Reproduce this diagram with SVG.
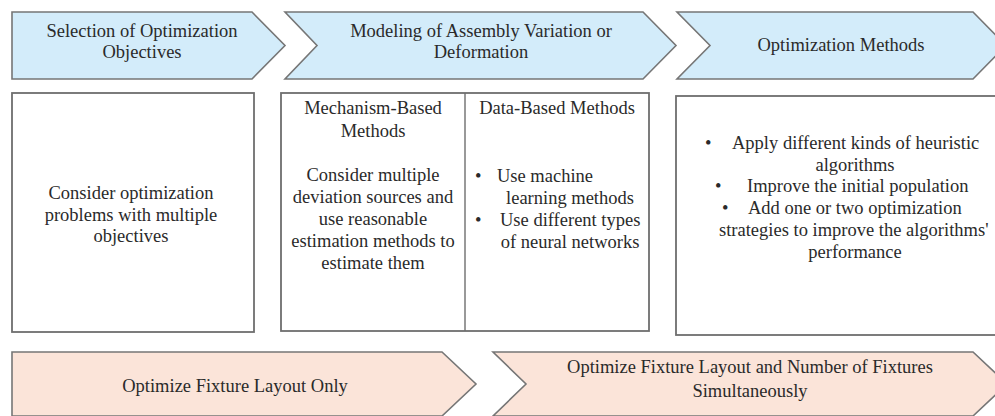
<svg xmlns="http://www.w3.org/2000/svg" width="995" height="416" viewBox="0 0 995 416">
<style>
.blue{fill:#d3ecfa;stroke:#767676;stroke-width:1.6}
.peach{fill:#fbe4d9;stroke:#767676;stroke-width:1.6}
.box{fill:#ffffff;stroke:#6e6e6e;stroke-width:1.8}
text{font-family:"Liberation Serif","Times New Roman",serif;font-size:18.5px;fill:#2a2a2a}
.c{text-anchor:middle}
</style>
<rect width="995" height="416" fill="#ffffff"/>
<g id="stage1">
<polygon class="blue" points="12,12 252,12 285,45.5 252,79 12,79"/>
<text class="c" x="142" y="37">Selection of Optimization</text>
<text class="c" x="142" y="58">Objectives</text>
</g>
<g id="stage2">
<polygon class="blue" points="285,12 643,12 676,45.5 643,79 285,79 317,45.5"/>
<text class="c" x="481" y="37">Modeling of Assembly Variation or</text>
<text class="c" x="481" y="58">Deformation</text>
</g>
<g id="stage3">
<polygon class="blue" points="677,12 973,12 1006,45.5 973,79 677,79 710,45.5"/>
<text class="c" x="841" y="51">Optimization Methods</text>
</g>
<g id="box1">
<rect class="box" x="12" y="93" width="242" height="239"/>
<text class="c" x="131" y="199">Consider optimization</text>
<text class="c" x="131" y="221">problems with multiple</text>
<text class="c" x="131" y="242">objectives</text>
</g>
<g id="box2">
<rect class="box" x="281" y="93" width="368" height="238"/>
<line x1="465" y1="93" x2="465" y2="331" stroke="#6e6e6e" stroke-width="1.4"/>
<text class="c" x="373" y="114">Mechanism-Based</text>
<text class="c" x="373" y="137">Methods</text>
<text class="c" x="373" y="181">Consider multiple</text>
<text class="c" x="373" y="203">deviation sources and</text>
<text class="c" x="373" y="225">use reasonable</text>
<text class="c" x="373" y="247">estimation methods to</text>
<text class="c" x="373" y="269">estimate them</text>
<text class="c" x="557" y="114">Data-Based Methods</text>
<text x="475" y="182">•</text>
<text class="c" x="545" y="182">Use  machine</text>
<text class="c" x="570" y="204">learning methods</text>
<text x="475" y="226">•</text>
<text x="500" y="226">Use different types</text>
<text class="c" x="570" y="248">of neural networks</text>
</g>
<g id="box3">
<rect class="box" x="676" y="96" width="330" height="239"/>
<text x="705" y="149">•</text>
<text x="732" y="149">Apply different kinds of heuristic</text>
<text class="c" x="855" y="171">algorithms</text>
<text x="715" y="192">•</text>
<text x="747" y="192">Improve the initial population</text>
<text x="722" y="214">•</text>
<text x="748" y="214">Add one or two optimization</text>
<text x="719" y="236">strategies to improve the algorithms'</text>
<text class="c" x="855" y="258">performance</text>
</g>
<g id="result1">
<polygon class="peach" points="12,352 442,352 476,384 442,416 12,416"/>
<text class="c" x="235" y="392">Optimize Fixture Layout Only</text>
</g>
<g id="result2">
<polygon class="peach" points="493,352 973,352 1007,384 973,416 493,416 526,384"/>
<text class="c" x="750" y="373">Optimize Fixture Layout and Number of Fixtures</text>
<text class="c" x="750" y="397">Simultaneously</text>
</g>
<g id="connectors"></g>
</svg>
